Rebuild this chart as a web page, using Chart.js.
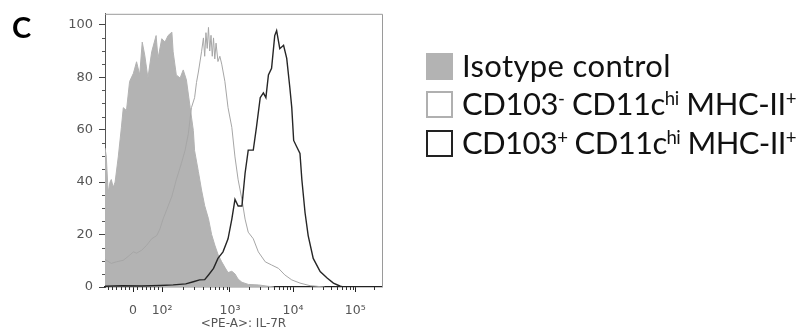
<!DOCTYPE html>
<html>
<head>
<meta charset="utf-8">
<script src="https://cdn.jsdelivr.net/npm/chart.js@4.4.1/dist/chart.umd.min.js"></script>
<style>
  body { margin: 0; background: #fff; }
  #wrap { position: relative; width: 800px; height: 333px; overflow: hidden; }
  #panel { position: absolute; left: 12px; top: 11.5px; font: bold 29px Lato, sans-serif; line-height: 29px; color: #000; }
  .row { position: absolute; left: 426px; height: 31px; line-height: 31px; white-space: nowrap;
         font-family: Lato, sans-serif; font-size: 31px; color: #111; }
  .box { position: absolute; left: 0; top: 3px; width: 27px; height: 27px; box-sizing: border-box; }
  .txt { position: absolute; left: 36px; top: 0; }
  sup { font-size: 0.6em; line-height: 0; position: relative; top: -0.55em; vertical-align: baseline; }
</style>
</head>
<body>
<div id="wrap">
  <canvas id="chart" width="800" height="333"></canvas>
  <div id="panel">C</div>
  <div id="legend"></div>
</div>
<script>
// x positions are in display decades of the biexponential axis (10^3 -> 3, 10^4 -> 4)
const isoX = [1.02, 1.04, 1.07, 1.10, 1.12, 1.15, 1.18, 1.23, 1.28, 1.31, 1.36, 1.41, 1.47, 1.52, 1.57, 1.61, 1.65, 1.70, 1.76, 1.83,
  1.86, 1.92, 1.97, 2.02, 2.08, 2.10, 2.15, 2.21, 2.26, 2.31, 2.37, 2.42, 2.44, 2.50, 2.55, 2.60, 2.66, 2.71, 2.76, 2.81,
  2.87, 2.92, 2.97, 3.03, 3.08, 3.13, 3.19, 3.29, 3.45, 3.60, 3.70];
const isoY = [53, 50, 36, 40, 41, 38, 40, 49.6, 60.9, 68.4, 67.3, 78.4, 81.5, 85.9, 80.9, 93.4, 88.4, 79.7, 89.7, 95.9,
  87.2, 94.7, 93.4, 95.9, 97.2, 89.7, 80.9, 79.7, 82.8, 79.0, 68.4, 59.7, 52, 44, 37, 31, 26, 20, 16, 12.5,
  9.6, 7.5, 5.5, 6.0, 5.0, 3.0, 1.8, 1.0, 0.8, 0.3, 0];

const negX = [1.02, 1.12, 1.20, 1.31, 1.41, 1.47, 1.52, 1.60, 1.68, 1.76, 1.84, 1.89, 1.94, 2.00, 2.08, 2.15, 2.23, 2.29, 2.34, 2.39,
  2.44, 2.47, 2.50, 2.55, 2.58, 2.60, 2.62, 2.64, 2.66, 2.68, 2.70, 2.72, 2.74, 2.76, 2.78, 2.81, 2.84, 2.87, 2.92, 2.97,
  3.03, 3.08, 3.13, 3.19, 3.24, 3.29, 3.37, 3.45, 3.56, 3.66, 3.77, 3.87, 3.98, 4.11, 4.27, 4.50];
const negY = [10.5, 9.0, 9.6, 10.2, 12.1, 13.4, 12.9, 14.0, 15.9, 18.4, 19.6, 22.1, 25.9, 29.6, 34.6, 40.9, 47.1, 52.2, 58.4, 68.4,
  72.2, 78, 82, 89.7, 95, 88, 97, 91, 99, 90, 96, 88, 95, 87, 93, 86, 88, 85, 78.4, 68.4,
  60.9, 49.6, 40.9, 33.4, 25.9, 20.9, 18.4, 13.4, 9.6, 8.4, 7.1, 4.6, 2.7, 1.5, 0.5, 0];

const posX = [1.02, 1.30, 1.60, 1.90, 2.10, 2.30, 2.42, 2.52, 2.60, 2.66, 2.74, 2.81, 2.89, 2.97, 3.03, 3.08, 3.13, 3.19, 3.24, 3.29,
  3.37, 3.42, 3.48, 3.53, 3.57, 3.61, 3.66, 3.71, 3.74, 3.79, 3.85, 3.90, 3.95, 3.98, 4.01, 4.06, 4.11, 4.14, 4.19, 4.24,
  4.32, 4.43, 4.54, 4.64, 4.75, 4.80];
const posY = [0.3, 0.5, 0.4, 0.6, 0.8, 1.2, 2.0, 2.7, 2.8, 4.6, 7.1, 10.9, 13.4, 18.4, 25.9, 33.4, 30.9, 30.9, 43.4, 52.2,
  52.2, 60.9, 72.2, 74.0, 72.2, 80.9, 83.4, 95.9, 97.8, 90.9, 92.2, 87.2, 75.9, 68.4, 55.9, 53.4, 50.9, 40.9, 28.4, 19.6,
  10.9, 5.9, 3.4, 1.5, 0.3, 0];

const seriesNames = ['Isotype control', 'CD103<sup>-</sup> CD11c<sup>hi</sup> MHC-II<sup>+</sup>', 'CD103<sup>+</sup> CD11c<sup>hi</sup> MHC-II<sup>+</sup>'];
const yTicks = [0, 20, 40, 60, 80, 100];
const xTickPos = [1.465, 1.925, 3, 4, 4.985];
const xTickLabels = ['0', '10²', '10³', '10⁴', '10⁵'];

// minor tick marks (linear part near zero, then log steps in each decade)
const xMinor = [1.06, 1.13, 1.20, 1.27, 1.34, 1.40, 1.53, 1.60, 1.67, 1.74, 1.80, 1.86];
for (let k = 2; k <= 9; k++) {
  xMinor.push(1.925 + 1.075 * Math.log10(k), 3 + Math.log10(k), 4 + Math.log10(k));
}
xMinor.push(4.985 + Math.log10(2));

const toPoints = (xs, ys) => xs.map((x, i) => ({ x: x, y: ys[i] }));

// legend next to the plot (html so the superscripts stay real text)
const boxStyles = [
  'background:#b3b3b3;',
  'background:#fff;border:2px solid #b0b0b0;',
  'background:#fff;border:2px solid #222;'
];
const rowTops = [49.5, 88.2, 126.9];
const textWidths = [209, 334, 334];
document.getElementById('legend').innerHTML = seriesNames.map((name, i) =>
  `<div class="row" style="top:${rowTops[i]}px"><span class="box" style="${boxStyles[i]}"></span><span class="txt">${name}</span></div>`
).join('');

// squeeze/stretch the letter spacing so each label spans the same width as in the figure
function fitLegend() {
  document.querySelectorAll('#legend .txt').forEach((el, i) => {
    el.style.letterSpacing = '0px';
    const w = el.getBoundingClientRect().width;
    const n = el.textContent.length;
    el.style.letterSpacing = ((textWidths[i] - w) / n).toFixed(2) + 'px';
  });
}
fitLegend();
if (document.fonts) document.fonts.ready.then(fitLegend);

const framePlugin = {
  id: 'frame',
  afterDraw(chart) {
    const ctx = chart.ctx;
    const { left, right, top, bottom } = chart.chartArea;
    const x = chart.scales.x, y = chart.scales.y;
    ctx.save();
    // top and right edges of the plot box
    ctx.strokeStyle = '#9a9a9a';
    ctx.lineWidth = 1;
    ctx.beginPath();
    ctx.moveTo(left, top + 0.5);
    ctx.lineTo(right + 0.5, top + 0.5);
    ctx.lineTo(right + 0.5, bottom);
    ctx.stroke();
    // minor ticks
    ctx.strokeStyle = '#333';
    ctx.beginPath();
    xMinor.forEach(v => {
      const px = Math.round(x.getPixelForValue(v)) + 0.5;
      ctx.moveTo(px, bottom);
      ctx.lineTo(px, bottom + 3);
    });
    ctx.stroke();
    ctx.strokeStyle = '#555';
    ctx.beginPath();
    for (let v = 5; v < 104; v += 5) {
      if (v % 20 === 0) continue;
      const py = Math.round(y.getPixelForValue(v)) + 0.5;
      ctx.moveTo(left - 3, py);
      ctx.lineTo(left, py);
    }
    ctx.stroke();
    ctx.restore();
  }
};

const ctx = document.getElementById('chart').getContext('2d');
new Chart(ctx, {
  type: 'line',
  data: {
    datasets: [
      {
        label: 'Isotype control',
        data: toPoints(isoX, isoY),
        fill: 'origin',
        backgroundColor: '#b3b3b3',
        borderColor: '#b3b3b3',
        borderWidth: 1,
        pointRadius: 0,
        tension: 0,
        order: 3
      },
      {
        label: 'CD103- CD11chi MHC-II+',
        data: toPoints(negX, negY),
        fill: false,
        borderColor: '#a6a6a6',
        borderWidth: 1,
        pointRadius: 0,
        tension: 0,
        order: 2
      },
      {
        label: 'CD103+ CD11chi MHC-II+',
        data: toPoints(posX, posY),
        fill: false,
        borderColor: '#262626',
        borderWidth: 1.4,
        pointRadius: 0,
        tension: 0,
        order: 1
      }
    ]
  },
  options: {
    responsive: false,
    animation: false,
    layout: { padding: { left: 0, top: 9.5, right: 418, bottom: 0 } },
    plugins: {
      legend: { display: false },
      tooltip: { enabled: false }
    },
    scales: {
      x: {
        type: 'linear',
        min: 1.02,
        max: 5.41,
        afterBuildTicks: s => { s.ticks = xTickPos.map(v => ({ value: v })); },
        afterFit: s => { s.height = 46; },
        ticks: {
          callback: v => xTickLabels[xTickPos.indexOf(v)],
          color: '#555',
          font: { family: 'DejaVu Sans', size: 12.5 },
          maxRotation: 0,
          autoSkip: false,
          padding: 11
        },
        grid: { drawOnChartArea: false, tickLength: 5, tickColor: '#222' },
        border: { color: '#222', width: 1.2 },
        title: {
          display: true,
          text: '<PE-A>: IL-7R',
          color: '#555',
          font: { family: 'DejaVu Sans', size: 12 },
          padding: { top: 0, bottom: 2 }
        }
      },
      y: {
        min: 0,
        max: 104.2,
        afterBuildTicks: s => { s.ticks = yTicks.map(v => ({ value: v })); },
        afterFit: s => { s.width = 105; },
        ticks: {
          color: '#555',
          font: { family: 'DejaVu Sans', size: 13 },
          padding: 6
        },
        grid: { drawOnChartArea: false, tickLength: 6, tickColor: '#444' },
        border: { color: '#555', width: 1 }
      }
    }
  },
  plugins: [framePlugin]
});
</script>
</body>
</html>
